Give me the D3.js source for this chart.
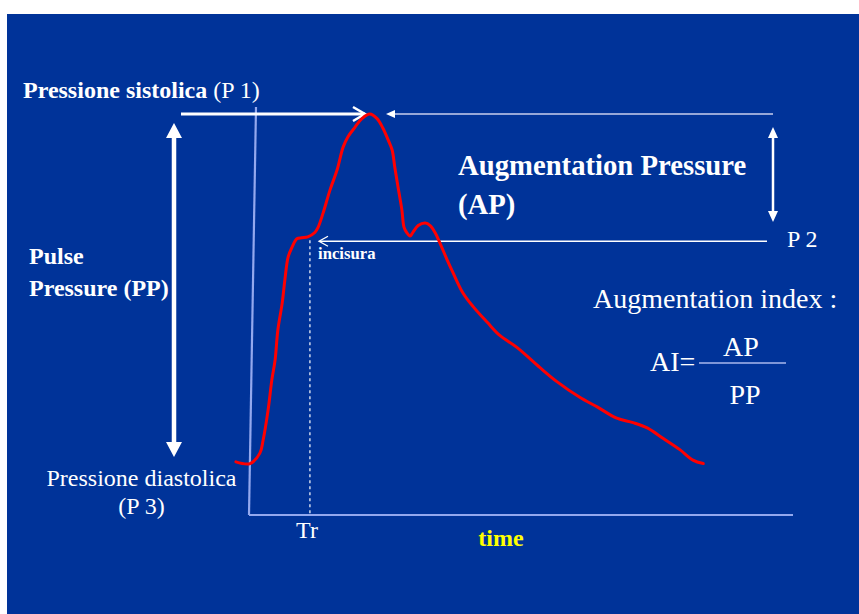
<!DOCTYPE html>
<html><head><meta charset="utf-8">
<script src="https://cdn.jsdelivr.net/npm/d3@7"></script>
</head><body style="margin:0;background:#fff">
<script>
// time (ms, relative to axis origin) and pressure (mmHg) of the traced pulse wave
const waveTime = [-24,2,20,26,35,42,48,53,61,66,72,79,88,97,108,121,127,136,149,162,173,182,195,208,222,235,246,256,263,268,274,281,285,290,296,301,311,324,333,342,351,364,375,393,412,438,461,493,535,566,608,640,676,706,732,761,792,816,835];
const wavePressure = [80.1,79.9,81.1,82.6,86.0,89.5,91.8,95.2,98.3,101.0,103.6,104.7,105.7,105.8,105.9,106.4,107.0,108.6,111.3,113.6,116.2,117.4,118.5,119.5,120.0,119.5,118.4,117.0,115.9,113.9,111.6,109.0,107.0,106.4,106.0,106.4,107.2,107.5,107.2,106.4,105.2,103.3,101.8,99.5,97.9,96.1,94.6,93.2,90.9,89.3,87.5,86.4,85.1,84.6,84.0,82.8,81.5,80.3,79.9];
const pressureLabels = ["P 1","P 2","P 3"];
const pressureValues = [120, 105.4, 80];
const trTime = 112;

const W = 859, H = 614;
const FONT = "Liberation Serif";
const svg = d3.select("body").append("svg").attr("width", W).attr("height", H).style("display","block");
svg.append("rect").attr("x",7).attr("y",14).attr("width",W-7).attr("height",H-14).attr("fill","#003399");

const x = d3.scaleLinear().domain([0,1000]).range([249,793]);
const y = d3.scaleLinear().domain([74,120]).range([515,114]);

const axisCol = "#93a8ee";
svg.append("line").attr("x1",256).attr("y1",107).attr("x2",x(0)).attr("y2",y(74)).attr("stroke",axisCol).attr("stroke-width",2.2);
svg.append("line").attr("x1",x(0)).attr("y1",y(74)).attr("x2",x(1000)).attr("y2",y(74)).attr("stroke",axisCol).attr("stroke-width",2.2);

svg.append("line").attr("x1",x(trTime)).attr("x2",x(trTime)).attr("y1",y(pressureValues[1])-1).attr("y2",y(74))
  .attr("stroke","#fff").attr("stroke-width",1.2).attr("stroke-dasharray","3,3");

const yP1 = y(pressureValues[0]), yP2 = y(pressureValues[1]);
svg.append("line").attr("x1",181).attr("x2",365).attr("y1",yP1).attr("y2",yP1).attr("stroke","#fff").attr("stroke-width",3);
svg.append("path").attr("d",`M353,${yP1-7}L365,${yP1}L353,${yP1+7}`).attr("fill","none").attr("stroke","#fff").attr("stroke-width",2.5);
svg.append("line").attr("x1",390).attr("x2",773).attr("y1",yP1).attr("y2",yP1).attr("stroke","#c9cfee").attr("stroke-width",1.5);
svg.append("path").attr("d",`M386,${yP1}L395,${yP1-4}L395,${yP1+4}Z`).attr("fill","#fff");

svg.append("line").attr("x1",320).attr("x2",767).attr("y1",yP2).attr("y2",yP2).attr("stroke","#fff").attr("stroke-width",1.3);
svg.append("path").attr("d",`M328,${yP2-5}L319,${yP2}L328,${yP2+5}`).attr("fill","none").attr("stroke","#fff").attr("stroke-width",1.3);

function dblArrow(cx, y1, y2, sw, hw, hh){
  svg.append("line").attr("x1",cx).attr("x2",cx).attr("y1",y1+hh-1).attr("y2",y2-hh+1).attr("stroke","#fff").attr("stroke-width",sw);
  svg.append("path").attr("d",`M${cx},${y1}L${cx+hw},${y1+hh}L${cx-hw},${y1+hh}Z`).attr("fill","#fff");
  svg.append("path").attr("d",`M${cx},${y2}L${cx+hw},${y2-hh}L${cx-hw},${y2-hh}Z`).attr("fill","#fff");
}
dblArrow(174,123,457,4.5,8,15);
dblArrow(773,127,222,2.5,5,11);

const line = d3.line().x((d,i)=>x(waveTime[i])).y(d=>y(d)).curve(d3.curveCatmullRom);
svg.append("path").attr("d",line(wavePressure)).attr("fill","none").attr("stroke","#ff0000").attr("stroke-width",3).attr("stroke-linejoin","round").attr("stroke-linecap","round");

function txt(xp, yp, size, str, opts={}){
  const t = svg.append("text").attr("x",xp).attr("y",yp).attr("fill",opts.fill||"#fff")
    .attr("font-family",FONT).attr("font-size",size);
  if (opts.bold) t.attr("font-weight","bold");
  if (opts.anchor) t.attr("text-anchor",opts.anchor);
  t.text(str);
  return t;
}
const t1 = txt(23,98,24,"");
t1.append("tspan").attr("font-weight","bold").text("Pressione sistolica");
t1.append("tspan").text(" (P 1)");
txt(29,264,24,"Pulse",{bold:true});
txt(29,296,24,"Pressure (PP)",{bold:true});
txt(141.5,486,24,"Pressione diastolica",{anchor:"middle"});
txt(141.5,514,24,"(P 3)",{anchor:"middle"});
txt(318,259,16.7,"incisura",{bold:true});
txt(307,538,24,"Tr",{anchor:"middle"});
txt(501,546,24,"time",{bold:true,anchor:"middle",fill:"#ffff00"});
txt(458,174.5,28.7,"Augmentation Pressure",{bold:true});
txt(458,213.5,28.7,"(AP)",{bold:true});
txt(787,247,24,pressureLabels[1]);
txt(593,308,28,"Augmentation index :");
txt(650,371,28,"AI=");
svg.append("line").attr("x1",699).attr("x2",786).attr("y1",363).attr("y2",363).attr("stroke","#a9b8ee").attr("stroke-width",1.5);
txt(741,356,28,"AP",{anchor:"middle"});
txt(745,404,28,"PP",{anchor:"middle"});
</script>
</body></html>
